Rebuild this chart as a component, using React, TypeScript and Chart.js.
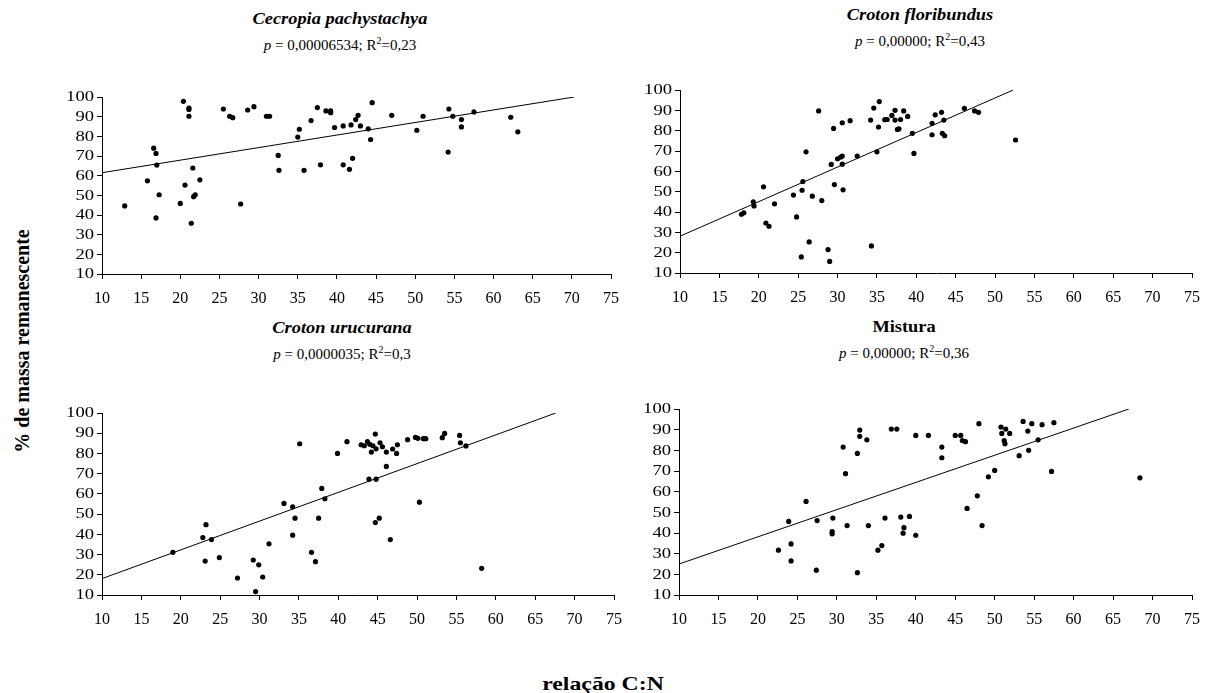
import React, { useEffect, useRef } from "react";
import { Chart, registerables } from "chart.js";

Chart.register(...registerables);

// ---------- data ----------
const cecropiaX = [12.9, 15.8, 16.6, 16.9, 17.0, 16.9, 17.3, 20.0, 20.4, 20.6, 21.1, 21.1, 21.1, 21.4, 21.6, 21.7, 21.9, 22.5, 25.5, 26.3, 26.7, 27.7, 28.6, 29.4, 31.0, 31.4, 32.5, 32.6, 35.0, 35.2, 35.8, 36.7, 37.5, 37.9, 38.6, 39.2, 39.2, 39.7, 40.8, 40.8, 41.6, 41.8, 42.0, 42.4, 42.7, 43.0, 44.0, 44.3, 44.5, 47.0, 50.2, 51.0, 54.2, 54.3, 54.8, 55.9, 55.9, 57.5, 62.2, 63.1];
const cecropiaY = [44.6, 57.4, 74.0, 71.3, 65.4, 38.5, 50.3, 45.9, 97.8, 55.2, 94.4, 93.7, 90.2, 35.8, 63.9, 49.3, 50.3, 57.9, 93.9, 90.2, 89.5, 45.6, 93.4, 95.1, 90.2, 90.2, 70.3, 62.7, 79.6, 83.6, 62.7, 88.0, 94.6, 65.5, 92.9, 92.9, 92.0, 84.5, 85.3, 65.5, 63.2, 85.8, 68.8, 88.5, 90.7, 85.3, 83.8, 78.4, 97.1, 90.7, 83.1, 90.2, 72.0, 93.9, 90.2, 88.5, 84.8, 92.4, 89.7, 82.3];
const cecropiaTrendX = [10, 70.3];
const cecropiaTrendY = [61.5, 100];

const floribundusX = [17.8, 18.1, 19.3, 19.4, 20.6, 20.9, 21.3, 22.0, 24.4, 24.8, 25.4, 25.5, 25.6, 26.0, 26.4, 26.8, 27.6, 28.0, 28.8, 29.0, 29.2, 29.5, 29.6, 30.0, 30.4, 30.6, 30.6, 30.6, 30.7, 31.6, 32.5, 34.2, 34.3, 34.6, 35.0, 35.2, 35.3, 36.0, 36.3, 36.9, 37.3, 37.3, 37.6, 37.8, 38.0, 38.4, 38.9, 39.5, 39.7, 42.0, 42.0, 42.4, 43.2, 43.5, 43.3, 43.6, 46.1, 47.4, 47.9, 52.6];
const floribundusY = [38.9, 39.6, 45.0, 43.0, 52.4, 34.6, 33.0, 44.0, 48.3, 37.6, 17.9, 50.7, 55.0, 69.6, 25.3, 47.8, 89.7, 45.6, 21.5, 15.7, 63.4, 81.1, 53.5, 66.2, 67.0, 67.5, 83.9, 63.5, 50.9, 84.9, 67.5, 85.2, 23.3, 91.1, 69.6, 81.8, 94.3, 85.4, 85.5, 87.5, 90.0, 85.2, 80.6, 80.9, 85.5, 89.7, 87.0, 78.7, 68.8, 83.6, 78.0, 87.8, 89.0, 85.2, 78.7, 77.5, 91.0, 89.7, 89.0, 75.4];
const floribundusTrendX = [10, 52.3];
const floribundusTrendY = [28.1, 100];

const urucuranaX = [19.0, 22.8, 23.1, 23.2, 23.9, 24.9, 27.2, 29.2, 29.5, 29.9, 30.4, 31.2, 33.1, 34.2, 34.2, 34.5, 35.1, 36.6, 37.1, 37.5, 37.9, 38.3, 39.9, 41.1, 42.9, 43.3, 43.7, 43.9, 44.0, 44.2, 44.4, 44.7, 44.7, 44.8, 44.8, 45.2, 45.3, 45.6, 46.1, 46.1, 46.6, 46.9, 47.4, 47.5, 48.8, 49.8, 50.1, 50.3, 50.8, 51.1, 53.2, 53.5, 55.4, 55.5, 56.2, 58.2];
const urucuranaY = [31.1, 38.4, 26.8, 44.8, 37.4, 28.5, 18.4, 27.3, 11.7, 24.9, 18.9, 35.3, 55.3, 53.6, 39.6, 48.0, 84.8, 31.1, 26.5, 48.0, 62.7, 57.6, 80.0, 85.8, 84.3, 83.8, 85.8, 67.3, 84.5, 80.7, 83.8, 89.6, 45.8, 82.3, 67.3, 48.0, 85.3, 83.3, 80.7, 73.6, 37.4, 82.2, 80.0, 84.3, 86.8, 87.9, 87.5, 55.9, 87.3, 87.3, 87.8, 89.9, 88.9, 85.3, 83.7, 23.2];
const urucuranaTrendX = [10, 67.6];
const urucuranaTrendY = [18.1, 100];

const misturaX = [22.6, 23.9, 24.2, 24.2, 26.1, 27.4, 27.5, 29.4, 29.4, 29.5, 30.8, 31.1, 31.3, 32.6, 32.6, 32.9, 32.9, 33.8, 34.0, 35.2, 35.7, 36.1, 36.9, 37.6, 38.1, 38.4, 38.5, 39.2, 40.0, 40.0, 41.6, 43.3, 43.3, 45.0, 45.7, 45.9, 46.3, 46.5, 47.8, 48.0, 48.4, 49.2, 50.0, 50.8, 50.9, 51.4, 51.2, 51.3, 51.9, 53.1, 53.6, 54.2, 54.3, 54.7, 55.5, 56.0, 57.2, 57.5, 68.4];
const misturaY = [31.7, 45.6, 34.7, 26.5, 55.3, 22.0, 46.0, 39.6, 40.7, 47.2, 81.6, 68.7, 43.6, 20.8, 78.5, 89.8, 86.8, 85.1, 43.6, 31.7, 33.9, 47.2, 90.3, 90.3, 47.7, 39.9, 42.6, 48.0, 87.2, 38.9, 87.2, 81.6, 76.4, 87.2, 87.2, 84.7, 84.2, 51.9, 58.0, 92.9, 43.6, 67.2, 70.3, 91.3, 88.2, 90.3, 84.7, 83.2, 88.2, 77.4, 94.0, 89.3, 80.0, 92.9, 85.1, 92.4, 69.8, 93.4, 66.7];
const misturaTrendX = [10, 67.0];
const misturaTrendY = [25.0, 100];

const panelTitles = ["Cecropia pachystachya", "Croton floribundus", "Croton urucurana", "Mistura"];
const panelPValues = ["0,00006534", "0,00000", "0,0000035", "0,00000"];
const panelR2Values = ["0,23", "0,43", "0,3", "0,36"];

const xMin = 10;
const xMax = 75;
const xStep = 5;
const yMin = 10;
const yMax = 100;
const yStep = 10;

const yAxisTitle = "% de massa remanescente";
const xAxisTitle = "relação C:N";

// ---------- layout ----------
const FONT = '"Liberation Serif", "Times New Roman", serif';
const Y_AXIS_W = 50;
const PAD_TOP = 10;
const PAD_RIGHT = 15;
const X_AXIS_H = 40;

type Panel = {
  xs: number[];
  ys: number[];
  tx: number[];
  ty: number[];
  plot: { l: number; t: number; r: number; b: number };
  title: { x: number; y: number; sy: number; italic: boolean };
};

const panels: Panel[] = [
  { xs: cecropiaX, ys: cecropiaY, tx: cecropiaTrendX, ty: cecropiaTrendY, plot: { l: 102, t: 97, r: 614, b: 274 }, title: { x: 340, y: 18, sy: 45, italic: true } },
  { xs: floribundusX, ys: floribundusY, tx: floribundusTrendX, ty: floribundusTrendY, plot: { l: 680, t: 90, r: 1195, b: 273 }, title: { x: 920, y: 14, sy: 41, italic: true } },
  { xs: urucuranaX, ys: urucuranaY, tx: urucuranaTrendX, ty: urucuranaTrendY, plot: { l: 102, t: 413, r: 617, b: 595 }, title: { x: 342, y: 327, sy: 354, italic: true } },
  { xs: misturaX, ys: misturaY, tx: misturaTrendX, ty: misturaTrendY, plot: { l: 679, t: 409, r: 1195, b: 595 }, title: { x: 904, y: 326, sy: 353, italic: false } },
];

const stretchedYLabels = {
  id: "stretchedYLabels",
  afterDraw(chart: any) {
    const s = chart.scales.y;
    const ctx = chart.ctx;
    ctx.save();
    ctx.font = `14px ${FONT}`;
    ctx.fillStyle = "#000";
    ctx.textAlign = "right";
    ctx.textBaseline = "middle";
    s.ticks.forEach((t: any) => {
      const y = s.getPixelForValue(t.value);
      ctx.save();
      ctx.translate(s.right - 8, y + 0.5);
      ctx.scale(1.33, 1);
      ctx.fillText(String(t.value), 0, 0);
      ctx.restore();
    });
    ctx.restore();
  },
};

function PanelChart({ p }: { p: Panel }) {
  const ref = useRef<HTMLCanvasElement | null>(null);
  const w = p.plot.r - p.plot.l + Y_AXIS_W + PAD_RIGHT;
  const h = p.plot.b - p.plot.t + PAD_TOP + X_AXIS_H;
  useEffect(() => {
    if (!ref.current) return;
    const chart = new Chart(ref.current, {
      type: "scatter",
      data: {
        datasets: [
          {
            type: "line",
            data: p.tx.map((x, i) => ({ x, y: p.ty[i] })),
            borderColor: "#000",
            borderWidth: 1,
            pointRadius: 0,
            fill: false,
            tension: 0,
          } as any,
          {
            data: p.xs.map((x, i) => ({ x, y: p.ys[i] })),
            backgroundColor: "#000",
            borderColor: "#000",
            borderWidth: 0,
            pointRadius: 2.6,
            pointHoverRadius: 2.6,
          },
        ],
      },
      options: {
        responsive: false,
        animation: false,
        devicePixelRatio: 1,
        layout: { padding: { left: 0, top: PAD_TOP, right: PAD_RIGHT, bottom: 0 } },
        plugins: { legend: { display: false }, tooltip: { enabled: false }, title: { display: false } },
        scales: {
          x: {
            type: "linear",
            min: xMin,
            max: xMax,
            ticks: { stepSize: xStep, color: "#000", font: { family: FONT, size: 16 }, padding: 10, maxRotation: 0 },
            grid: { display: true, drawOnChartArea: false, drawTicks: true, tickLength: 5, color: "#000", tickColor: "#000" },
            border: { display: true, color: "#000", width: 1 },
            afterFit: (s: any) => { s.height = X_AXIS_H; },
          },
          y: {
            type: "linear",
            min: yMin,
            max: yMax,
            ticks: { stepSize: yStep, display: false },
            grid: { display: true, drawOnChartArea: false, drawTicks: true, tickLength: 5, color: "#000", tickColor: "#000" },
            border: { display: true, color: "#000", width: 1 },
            afterFit: (s: any) => { s.width = Y_AXIS_W; },
          },
        },
      },
      plugins: [stretchedYLabels],
    } as any);
    return () => chart.destroy();
  }, []);
  return (
    <canvas
      ref={ref}
      width={w}
      height={h}
      style={{ position: "absolute", left: p.plot.l - Y_AXIS_W, top: p.plot.t - PAD_TOP, width: w, height: h }}
    />
  );
}

function Text({ x, y, children, style, rotate, sx }: any) {
  const tf = `translate(-50%, -50%)${rotate ? ` rotate(${rotate}deg)` : ""}${sx ? ` scaleX(${sx})` : ""}`;
  return (
    <div
      style={{
        position: "absolute",
        left: x,
        top: y,
        transform: tf,
        whiteSpace: "nowrap",
        lineHeight: 1,
        fontFamily: FONT,
        color: "#000",
        ...style,
      }}
    >
      {children}
    </div>
  );
}

export default function App() {
  return (
    <div style={{ position: "absolute", left: 0, top: 0, width: 1211, height: 693, background: "#fff", overflow: "hidden" }}>
      {panels.map((p, i) => (
        <React.Fragment key={i}>
          <PanelChart p={p} />
          <Text x={p.title.x} y={p.title.y} sx={1.08} style={{ fontSize: 17, fontWeight: "bold", fontStyle: p.title.italic ? "italic" : "normal" }}>
            {panelTitles[i]}
          </Text>
          <Text x={p.title.x} y={p.title.sy} style={{ fontSize: 15 }}>
            <span style={{ fontStyle: "italic" }}>p</span> = {panelPValues[i]}; R<sup style={{ fontSize: 10, verticalAlign: "6px", lineHeight: 0 }}>2</sup>={panelR2Values[i]}
          </Text>
        </React.Fragment>
      ))}
      <Text x={22} y={341} rotate={-90} style={{ fontSize: 20, fontWeight: "bold" }}>
        {yAxisTitle}
      </Text>
      <Text x={603} y={683} sx={1.25} style={{ fontSize: 19, fontWeight: "bold" }}>
        {xAxisTitle}
      </Text>
    </div>
  );
}
